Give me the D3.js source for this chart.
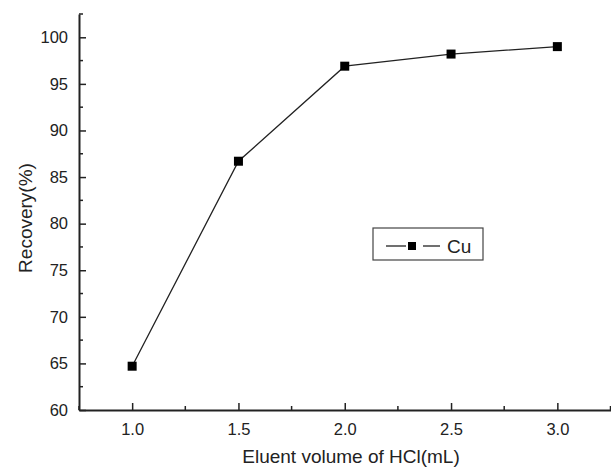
<!DOCTYPE html>
<html>
<head>
<meta charset="utf-8">
<script src="https://cdn.jsdelivr.net/npm/d3@7"></script>
<style>
  body { margin: 0; background: #fff; }
  text { font-family: "Liberation Sans", Arial, sans-serif; fill: #222; }
</style>
</head>
<body>
<div id="chart"></div>
<script>
var volumes = [1.0, 1.5, 2.0, 2.5, 3.0];
var recovery = [64.7, 86.7, 96.9, 98.2, 99.0];
var xTicks = [1.0, 1.5, 2.0, 2.5, 3.0];
var yTicks = [60, 65, 70, 75, 80, 85, 90, 95, 100];
var seriesName = "Cu";

var w = 611, h = 468;
var margin = { left: 79, right: 0, top: 14, bottom: 58 };

var svg = d3.select("#chart").append("svg")
    .attr("width", w)
    .attr("height", h);

var x = d3.scaleLinear().domain([0.75, 3.25]).range([margin.left, w - margin.right - 0.5]);
var y = d3.scaleLinear().domain([60, 102.5]).range([h - margin.bottom, margin.top]);

// minor ticks (quarters on x, 2.5 on y)
var xMinor = d3.range(0.75, 3.26, 0.25).filter(function (v) { return xTicks.indexOf(+v.toFixed(2)) < 0; });
var yMinor = d3.range(62.5, 102.6, 5);

var g = svg.append("g");

g.selectAll("line.xminor").data(xMinor).enter().append("line")
    .attr("x1", function (d) { return x(d); }).attr("x2", function (d) { return x(d); })
    .attr("y1", y(60)).attr("y2", y(60) - 4)
    .style("stroke", "#222").style("stroke-width", "1.5px");

g.selectAll("line.yminor").data(yMinor).enter().append("line")
    .attr("x1", x(0.75)).attr("x2", x(0.75) + 4)
    .attr("y1", function (d) { return y(d); }).attr("y2", function (d) { return y(d); })
    .style("stroke", "#222").style("stroke-width", "1.5px");

var xAxis = d3.axisBottom(x).tickValues(xTicks).tickFormat(d3.format(".1f")).tickSizeInner(-7).tickSizeOuter(0).tickPadding(13);
var yAxis = d3.axisLeft(y).tickValues(yTicks).tickSizeInner(-7).tickSizeOuter(0).tickPadding(11);

var gx = svg.append("g").attr("transform", "translate(0," + y(60) + ")").call(xAxis);
var gy = svg.append("g").attr("transform", "translate(" + x(0.75) + ",0)").call(yAxis);

[gx, gy].forEach(function (a) {
    a.select(".domain").style("stroke", "#222").style("stroke-width", "2px");
    a.selectAll(".tick line").style("stroke", "#222").style("stroke-width", "1.5px");
    a.selectAll(".tick text").style("font-size", "16.5px").style("fill", "#222");
});

svg.append("text")
    .attr("x", 351)
    .attr("y", 463)
    .attr("text-anchor", "middle")
    .style("font-size", "19px")
    .text("Eluent volume of HCl(mL)");

svg.append("text")
    .attr("transform", "translate(32,218) rotate(-90)")
    .attr("text-anchor", "middle")
    .style("font-size", "19px")
    .text("Recovery(%)");

var pts = volumes.map(function (v, i) { return [v, recovery[i]]; });

svg.append("path")
    .datum(pts)
    .attr("d", d3.line().x(function (d) { return x(d[0]); }).y(function (d) { return y(d[1]); }))
    .style("fill", "none")
    .style("stroke", "#222")
    .style("stroke-width", "1.3px");

var sq = 9;
svg.selectAll("rect.pt").data(pts).enter().append("rect")
    .attr("x", function (d) { return x(d[0]) - sq / 2; })
    .attr("y", function (d) { return y(d[1]) - sq / 2; })
    .attr("width", sq).attr("height", sq)
    .style("fill", "#000");

// legend
var lg = svg.append("g").attr("transform", "translate(373,228)");
lg.append("rect").attr("width", 110).attr("height", 32)
    .style("fill", "#fff").style("stroke", "#444").style("stroke-width", "1.2px");
lg.append("line").attr("x1", 13).attr("x2", 33).attr("y1", 18).attr("y2", 18)
    .style("stroke", "#222").style("stroke-width", "1.3px");
lg.append("line").attr("x1", 50).attr("x2", 67).attr("y1", 18).attr("y2", 18)
    .style("stroke", "#222").style("stroke-width", "1.3px");
lg.append("rect").attr("x", 35).attr("y", 14).attr("width", 8).attr("height", 8).style("fill", "#000");
lg.append("text").attr("x", 74).attr("y", 25).style("font-size", "19px").text(seriesName);
</script>
</body>
</html>
